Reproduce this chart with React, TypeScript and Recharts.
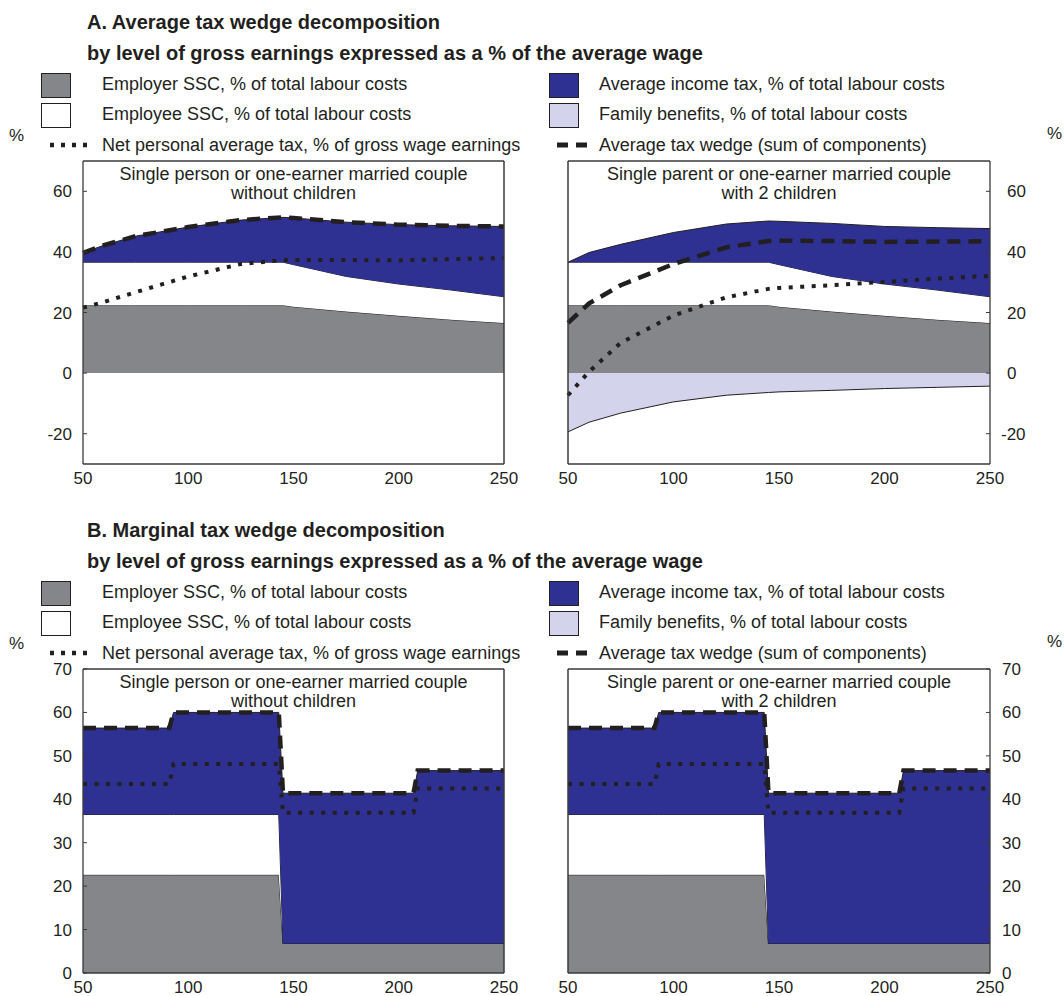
import React from 'react';
import { ComposedChart, Area, Line, XAxis, YAxis, ReferenceLine } from 'recharts';

const FONT = 'Arial, "Liberation Sans", Helvetica, sans-serif';
const TEXT = '#231F20';
const GRAY = '#858689';
const BLUE = '#2E3192';
const LAV = '#D3D3EB';
const FRAME = '#3a3a3a';

// ---------- Panel A: average tax wedge ----------
const avgEarnings = [50, 60, 75, 100, 125, 145, 150, 175, 200, 225, 250];
const avgEmployerSSC = [22.4, 22.4, 22.4, 22.4, 22.4, 22.4, 21.9, 20.3, 18.9, 17.6, 16.5];
const avgEmployeeSSC = [14.2, 14.2, 14.2, 14.2, 14.2, 14.2, 13.9, 11.6, 10.5, 9.8, 8.7];
const avgIncomeTaxSingle = [3.1, 5.6, 8.6, 11.6, 13.9, 14.8, 15.4, 17.9, 19.6, 21.2, 23.2];
const avgNetTaxSingle = [21.6, 23.5, 26.7, 31.9, 36.0, 37.3, 37.3, 37.3, 37.2, 37.6, 38.0];
const avgWedgeSingle = [39.7, 42.2, 45.2, 48.2, 50.5, 51.4, 51.2, 49.8, 49.0, 48.6, 48.4];
const avgIncomeTaxFamily = [0, 3.2, 5.9, 9.8, 12.6, 13.6, 14.3, 17.5, 19.0, 20.6, 22.5];
const avgFamilyBenefits = [-19.4, -16.2, -13.2, -9.5, -7.3, -6.4, -6.2, -5.7, -5.1, -4.7, -4.3];
const avgNetTaxFamily = [-7.3, 0.5, 10.0, 19.0, 25.0, 27.8, 28.1, 29.0, 30.1, 31.2, 32.1];
const avgWedgeFamily = [16.6, 23.0, 29.0, 36.0, 41.5, 43.6, 43.7, 43.6, 43.3, 43.4, 43.5];

// ---------- Panel B: marginal tax wedge ----------
const margEarnings = [50, 91, 93, 143, 145, 207, 209, 250];
const margEmployerSSC = [22.6, 22.6, 22.6, 22.6, 6.8, 6.8, 6.8, 6.8];
const margEmployeeSSC = [13.9, 13.9, 13.9, 13.9, 0, 0, 0, 0];
const margIncomeTax = [19.9, 19.9, 23.5, 23.5, 34.6, 34.6, 39.8, 39.8];
const margFamilyBenefits = [0, 0, 0, 0, 0, 0, 0, 0];
const margNetTax = [43.5, 43.5, 48.1, 48.1, 36.9, 36.9, 42.5, 42.5];
const margWedge = [56.4, 56.4, 60.0, 60.0, 41.4, 41.4, 46.6, 46.6];

const xTicks = [50, 100, 150, 200, 250];
const avgYTicks = [-20, 0, 20, 40, 60];
const margYTicks = [0, 10, 20, 30, 40, 50, 60, 70];

const legendLeft = [
  'Employer SSC, % of total labour costs',
  'Employee SSC, % of total labour costs',
  'Net personal average tax, % of gross wage earnings',
];
const legendRight = [
  'Average income tax, % of total labour costs',
  'Family benefits, % of total labour costs',
  'Average tax wedge (sum of components)',
];

const subSingle = ['Single person or one-earner married couple', 'without children'];
const subFamily = ['Single parent or one-earner married couple', 'with 2 children'];

function build(x: number[], emr: number[], eme: number[], tax: number[], fb: number[] | null, net: number[], wedge: number[]) {
  return x.map((v, i) => ({
    x: v,
    employer: emr[i],
    employee: eme[i],
    tax: tax[i],
    fb: fb ? fb[i] : 0,
    net: net[i],
    wedge: wedge[i],
  }));
}

const dataA1 = build(avgEarnings, avgEmployerSSC, avgEmployeeSSC, avgIncomeTaxSingle, null, avgNetTaxSingle, avgWedgeSingle);
const dataA2 = build(avgEarnings, avgEmployerSSC, avgEmployeeSSC, avgIncomeTaxFamily, avgFamilyBenefits, avgNetTaxFamily, avgWedgeFamily);
const dataB1 = build(margEarnings, margEmployerSSC, margEmployeeSSC, margIncomeTax, null, margNetTax, margWedge);
const dataB2 = build(margEarnings, margEmployerSSC, margEmployeeSSC, margIncomeTax, margFamilyBenefits, margNetTax, margWedge);

const DOT = '4 7.5';
const DASH = '13 8';

const makeYTick = (side: 'left' | 'right', off: number) => (props: any) => {
  const { x, y, payload } = props;
  const v = payload.value;
  if (side === 'left') {
    return (
      <g>
        <line x1={x} x2={x + 4} y1={y} y2={y} stroke={FRAME} strokeWidth={1} />
        <text x={x - off} y={y} dy={6} textAnchor="end" fontSize={17} fill={TEXT} fontFamily={FONT}>{v}</text>
      </g>
    );
  }
  return (
    <g>
      <line x1={x - 4} x2={x} y1={y} y2={y} stroke={FRAME} strokeWidth={1} />
      <text x={x + off - (v < 0 ? 6 : 0)} y={y} dy={6} textAnchor="start" fontSize={17} fill={TEXT} fontFamily={FONT}>{v}</text>
    </g>
  );
};

const XTick = (props: any) => {
  const { x, y, payload } = props;
  return (
    <text x={x} y={y + 20} textAnchor="middle" fontSize={17} fill={TEXT} fontFamily={FONT}>{payload.value}</text>
  );
};

type PanelProps = {
  data: any[];
  side: 'left' | 'right';
  plotTop: number;
  plotH: number;
  domain: [number, number];
  yTicks: number[];
  withFB: boolean;
  subtitle: string[];
  labelOff: number;
};

function Panel({ data, side, plotTop, plotH, domain, yTicks, withFB, subtitle, labelOff }: PanelProps) {
  const isLeft = side === 'left';
  const divLeft = isLeft ? 0 : 540;
  const width = isLeft ? 540 : 524;
  const plotLeft = isLeft ? 83 : 568;
  const plotRight = isLeft ? 504 : 990;
  const margin = isLeft
    ? { top: 10, right: width - (plotRight - divLeft), bottom: 0, left: 0 }
    : { top: 10, right: 0, bottom: 0, left: plotLeft - divLeft };
  const yW = isLeft ? plotLeft - divLeft : divLeft + width - plotRight;
  const height = 10 + plotH + 40;
  return (
    <>
      <div style={{ position: 'absolute', left: divLeft, top: plotTop - 10, width, height }}>
        <ComposedChart width={width} height={height} data={data} margin={margin} stackOffset="sign">
          <XAxis
            dataKey="x"
            type="number"
            domain={[50, 250]}
            ticks={xTicks}
            height={40}
            axisLine={{ stroke: FRAME, strokeWidth: 1.5 }}
            tickLine={false}
            tickSize={0}
            tickMargin={0}
            tick={XTick}
            interval={0}
          />
          <YAxis
            orientation={side}
            type="number"
            domain={domain}
            ticks={yTicks}
            width={yW}
            axisLine={{ stroke: FRAME, strokeWidth: 1.3 }}
            tickLine={false}
            tickSize={0}
            tickMargin={0}
            tick={makeYTick(side, labelOff)}
            interval={0}
          />
          <Area type="linear" dataKey="employer" stackId="s" fill={GRAY} fillOpacity={1} stroke={TEXT} strokeWidth={1} isAnimationActive={false} dot={false} activeDot={false} />
          <Area type="linear" dataKey="employee" stackId="s" fill="#ffffff" fillOpacity={1} stroke={TEXT} strokeWidth={1} isAnimationActive={false} dot={false} activeDot={false} />
          <Area type="linear" dataKey="tax" stackId="s" fill={BLUE} fillOpacity={1} stroke={TEXT} strokeWidth={1} isAnimationActive={false} dot={false} activeDot={false} />
          {withFB && (
            <Area type="linear" dataKey="fb" stackId="s" fill={LAV} fillOpacity={1} stroke={TEXT} strokeWidth={1} isAnimationActive={false} dot={false} activeDot={false} />
          )}
          <Line type="linear" dataKey="wedge" stroke={TEXT} strokeWidth={4.5} strokeDasharray={DASH} dot={false} activeDot={false} isAnimationActive={false} />
          <Line type="linear" dataKey="net" stroke={TEXT} strokeWidth={4} strokeDasharray={DOT} dot={false} activeDot={false} isAnimationActive={false} />
          <ReferenceLine y={domain[1]} stroke={FRAME} strokeWidth={1.5} />
          <ReferenceLine x={isLeft ? 250 : 50} stroke={FRAME} strokeWidth={1.5} />
        </ComposedChart>
      </div>
      <div
        style={{
          position: 'absolute',
          left: plotLeft - 20,
          width: plotRight - plotLeft + 40,
          top: plotTop + 4,
          textAlign: 'center',
          fontSize: 18,
          lineHeight: '19px',
          color: TEXT,
          fontFamily: FONT,
          pointerEvents: 'none',
          whiteSpace: 'nowrap',
        }}
      >
        <div>{subtitle[0]}</div>
        <div>{subtitle[1]}</div>
      </div>
    </>
  );
}

function Swatch({ left, top, fill }: { left: number; top: number; fill: string }) {
  return (
    <div
      style={{
        position: 'absolute',
        left,
        top,
        width: 28,
        height: 23,
        background: fill,
        border: `1px solid ${TEXT}`,
      }}
    />
  );
}

function LegendBlock({ off, title }: { off: number; title: string }) {
  const rows = [84, 114, 145];
  const txt = (left: number, cy: number, s: string) => (
    <div
      style={{
        position: 'absolute',
        left,
        top: off + cy - 11,
        height: 22,
        lineHeight: '22px',
        fontSize: 18,
        color: TEXT,
        fontFamily: FONT,
        whiteSpace: 'nowrap',
      }}
    >
      {s}
    </div>
  );
  const titleStyle: React.CSSProperties = {
    position: 'absolute',
    left: 87,
    lineHeight: '22px',
    fontSize: 20,
    fontWeight: 'bold',
    color: TEXT,
    fontFamily: FONT,
    whiteSpace: 'nowrap',
  };
  return (
    <>
      <div style={{ ...titleStyle, top: off + 11 }}>{title}</div>
      <div style={{ ...titleStyle, top: off + 42 }}>by level of gross earnings expressed as a % of the average wage</div>
      <Swatch left={41} top={off + 73} fill={GRAY} />
      <Swatch left={41} top={off + 103} fill="#ffffff" />
      <Swatch left={549} top={off + 73} fill={BLUE} />
      <Swatch left={549} top={off + 103} fill={LAV} />
      <svg style={{ position: 'absolute', left: 0, top: off + 135 }} width={600} height={20}>
        <line x1={50} x2={88} y1={10} y2={10} stroke={TEXT} strokeWidth={4.5} strokeDasharray="4 7" />
        <line x1={557} x2={590} y1={10} y2={10} stroke={TEXT} strokeWidth={5} strokeDasharray="11 8" />
      </svg>
      {txt(102, rows[0], legendLeft[0])}
      {txt(102, rows[1], legendLeft[1])}
      {txt(102, rows[2], legendLeft[2])}
      {txt(599, rows[0], legendRight[0])}
      {txt(599, rows[1], legendRight[1])}
      {txt(599, rows[2], legendRight[2])}
      <div style={{ position: 'absolute', left: 9, top: off + 126, fontSize: 17, lineHeight: '20px', color: TEXT, fontFamily: FONT }}>%</div>
      <div style={{ position: 'absolute', left: 1047, top: off + 124, fontSize: 17, lineHeight: '20px', color: TEXT, fontFamily: FONT }}>%</div>
    </>
  );
}

export default function App() {
  return (
    <div style={{ position: 'absolute', left: 0, top: 0, width: 1064, height: 996, background: '#fff', fontFamily: FONT }}>
      <LegendBlock off={0} title="A. Average tax wedge decomposition" />
      <Panel data={dataA1} side="left" plotTop={161} plotH={303} domain={[-30, 70]} yTicks={avgYTicks} withFB={false} subtitle={subSingle} labelOff={11} />
      <Panel data={dataA2} side="right" plotTop={161} plotH={303} domain={[-30, 70]} yTicks={avgYTicks} withFB={true} subtitle={subFamily} labelOff={17} />
      <LegendBlock off={508} title="B. Marginal tax wedge decomposition" />
      <Panel data={dataB1} side="left" plotTop={669} plotH={304} domain={[0, 70]} yTicks={margYTicks} withFB={false} subtitle={subSingle} labelOff={11} />
      <Panel data={dataB2} side="right" plotTop={669} plotH={304} domain={[0, 70]} yTicks={margYTicks} withFB={false} subtitle={subFamily} labelOff={12} />
    </div>
  );
}
